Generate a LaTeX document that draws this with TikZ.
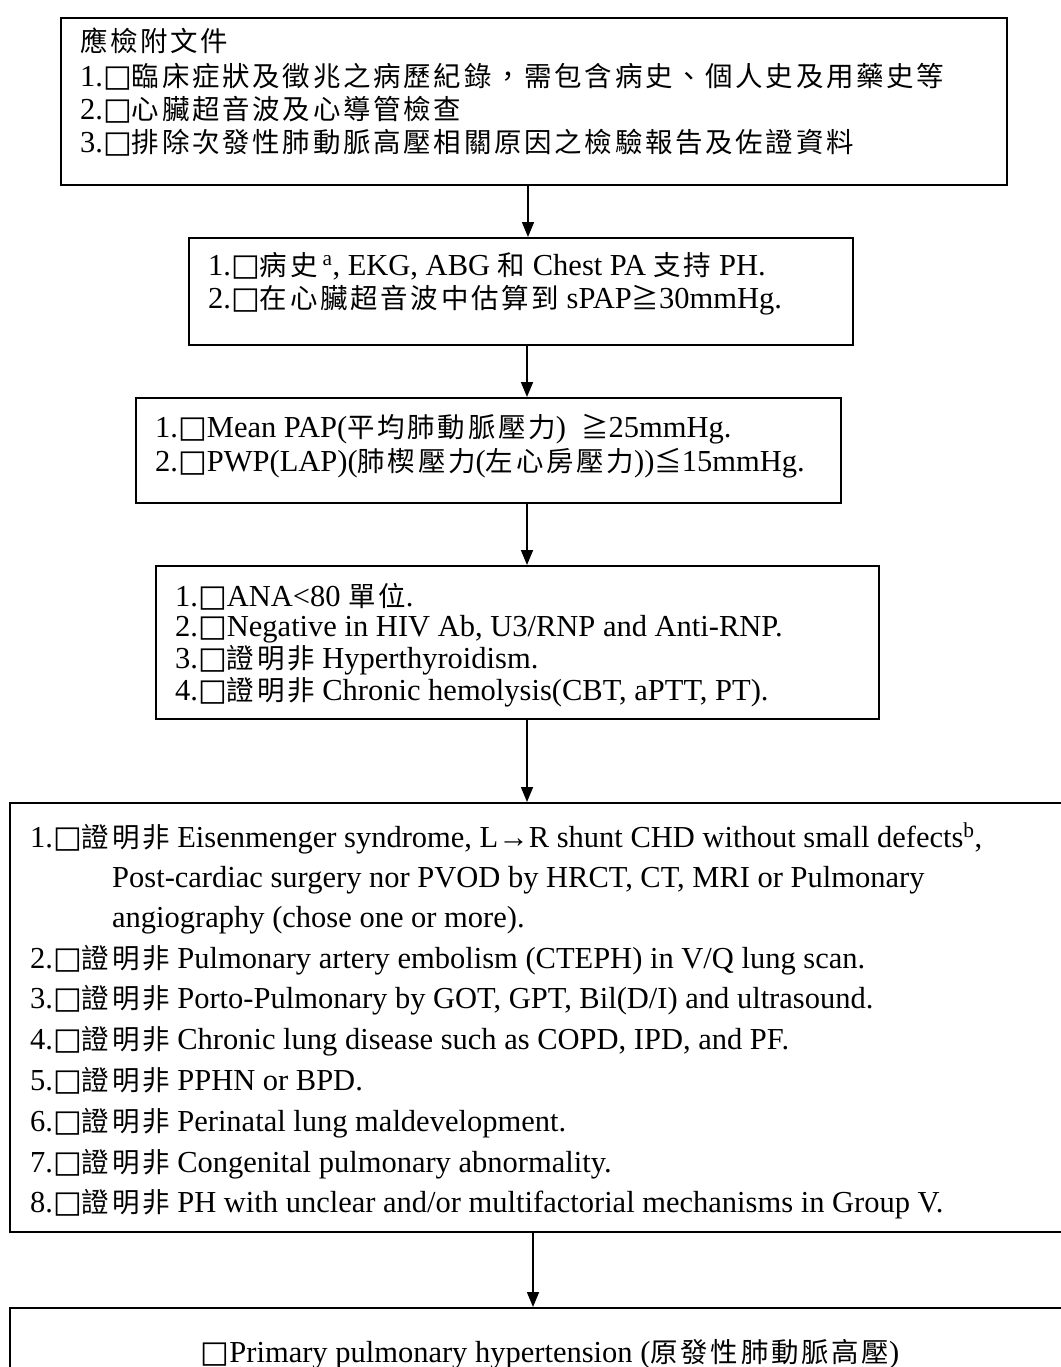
\documentclass[tikz,border=0pt]{standalone}
\usepackage{fontspec}
\setmainfont{Liberation Serif}
\newfontfamily\zhf{Noto Sans CJK TC}[Scale=0.9,LetterSpace=10]
\newfontfamily\symf{DejaVu Sans}
\newcommand\zh[1]{{\zhf #1}}
\newcommand\cbx{{\symf □}}
\usetikzlibrary{arrows.meta}
\begin{document}
\begin{tikzpicture}[x=1pt,y=-1pt,
  boxn/.style={draw,line width=1.6pt,rectangle,inner sep=0pt,anchor=north west},
  txt/.style={anchor=base west,inner sep=0pt,font=\fontsize{30.5}{33}\selectfont},
  arr/.style={line width=1.6pt,-{Triangle[width=12pt,length=15pt]}}]
\useasboundingbox (0,0) rectangle (1060,1367);
\fill[white] (0,0) rectangle (1060,1367);
% boxes
\node[boxn,minimum width=946pt,minimum height=167pt] (b1) at (60,17) {};
\node[boxn,minimum width=664pt,minimum height=107pt] (b2) at (188,237) {};
\node[boxn,minimum width=705pt,minimum height=105pt] (b3) at (135,397) {};
\node[boxn,minimum width=723pt,minimum height=153pt] (b4) at (155,565) {};
\node[boxn,minimum width=1070pt,minimum height=429pt] (b5) at (9,802) {};
\node[boxn,minimum width=1070pt,minimum height=90pt] (b6) at (9,1307) {};
% box 1 text
\node[txt] (t10) at (80,52) {\zh{應檢附文件}};
\node[txt] (t11) at (80,87) {1.\cbx\zh{臨床症狀及徵兆之病歷紀錄，需包含病史、個人史及用藥史等}};
\node[txt] (t12) at (80,120) {2.\cbx\zh{心臟超音波及心導管檢查}};
\node[txt] (t13) at (80,153) {3.\cbx\zh{排除次發性肺動脈高壓相關原因之檢驗報告及佐證資料}};
% box 2 text
\node[txt] (t21) at (208,275) {1.\cbx\zh{病史}\,\textsuperscript{a}, EKG, ABG \zh{和} Chest PA \zh{支持} PH.};
\node[txt] (t22) at (208,308) {2.\cbx\zh{在心臟超音波中估算到} sPAP\zh{≧}30mmHg.};
% box 3 text
\node[txt] (t31) at (155,437) {1.\cbx Mean PAP(\zh{平均肺動脈壓力})\ \ \zh{≧}25mmHg.};
\node[txt] (t32) at (155,471) {2.\cbx PWP(LAP)(\zh{肺楔壓力}(\zh{左心房壓力}))\zh{≦}15mmHg.};
% box 4 text
\node[txt] (t41) at (175,606) {1.\cbx ANA<80 \zh{單位}.};
\node[txt] (t42) at (175,636) {2.\cbx Negative in HIV Ab, U3/RNP and Anti-RNP.};
\node[txt] (t43) at (175,668) {3.\cbx\zh{證明非} Hyperthyroidism.};
\node[txt] (t44) at (175,700) {4.\cbx\zh{證明非} Chronic hemolysis(CBT, aPTT, PT).};
% box 5 text
\node[txt] (t51) at (30,847) {1.\cbx\zh{證明非} Eisenmenger syndrome, L→R shunt CHD without small defects\textsuperscript{b},};
\node[txt] (t51b) at (112,887) {Post-cardiac surgery nor PVOD by HRCT, CT, MRI or Pulmonary};
\node[txt] (t51c) at (112,927) {angiography (chose one or more).};
\node[txt] (t52) at (30,968) {2.\cbx\zh{證明非} Pulmonary artery embolism (CTEPH) in V/Q lung scan.};
\node[txt] (t53) at (30,1008) {3.\cbx\zh{證明非} Porto-Pulmonary by GOT, GPT, Bil(D/I) and ultrasound.};
\node[txt] (t54) at (30,1049) {4.\cbx\zh{證明非} Chronic lung disease such as COPD, IPD, and PF.};
\node[txt] (t55) at (30,1090) {5.\cbx\zh{證明非} PPHN or BPD.};
\node[txt] (t56) at (30,1131) {6.\cbx\zh{證明非} Perinatal lung maldevelopment.};
\node[txt] (t57) at (30,1172) {7.\cbx\zh{證明非} Congenital pulmonary abnormality.};
\node[txt] (t58) at (30,1212) {8.\cbx\zh{證明非} PH with unclear and/or multifactorial mechanisms in Group V.};
% box 6 text
\node[txt,anchor=base] (t61) at (550,1362) {\cbx Primary pulmonary hypertension (\zh{原發性肺動脈高壓})};
% arrows
\coordinate (x1) at (528,0);
\coordinate (x2) at (527,0);
\coordinate (x5) at (533,0);
\draw[arr] (b1.south -| x1) -- (b2.north -| x1);
\draw[arr] (b2.south -| x2) -- (b3.north -| x2);
\draw[arr] (b3.south -| x2) -- (b4.north -| x2);
\draw[arr] (b4.south -| x2) -- (b5.north -| x2);
\draw[arr] (b5.south -| x5) -- (b6.north -| x5);
\end{tikzpicture}
\end{document}
